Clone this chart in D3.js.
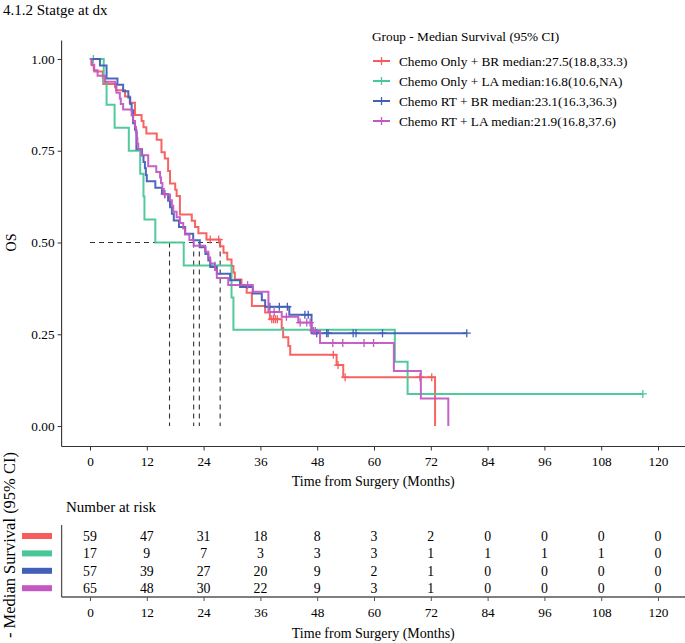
<!DOCTYPE html>
<html><head><meta charset="utf-8">
<script src="https://cdn.jsdelivr.net/npm/d3@7"></script>
<style>
body{margin:0;background:#fff}
svg{display:block}
text{font-family:"Liberation Serif","Times New Roman",serif;fill:#000}
</style>
</head><body>
<svg id="c" width="685" height="643"></svg>
<script>
// ---------------- DATA ----------------
const groups = ["Chemo Only + BR","Chemo Only + LA","Chemo RT + BR","Chemo RT + LA"];
const legendLabels = [
  "Chemo Only + BR median:27.5(18.8,33.3)",
  "Chemo Only + LA median:16.8(10.6,NA)",
  "Chemo RT + BR median:23.1(16.3,36.3)",
  "Chemo RT + LA median:21.9(16.8,37.6)"
];
const medians = [27.5, 16.8, 23.1, 21.9];
const colors = ["#F65C5C", "#48C896", "#4160B6", "#C358C2"];
const xTicks = [0,12,24,36,48,60,72,84,96,108,120];
const yTicks = [0,0.25,0.5,0.75,1];
const yTickLabels = ["0.00","0.25","0.50","0.75","1.00"];

// Chemo Only + BR (red)
const redTimes = [0,0.4,0.9,2.7,2.8,5.5,7.4,8.4,9.5,10.9,11.3,11.9,14.1,15.1,15.8,16.5,16.9,18.0,18.3,19.0,21.5,22.2,22.9,24.6,27.5,28.2,29.0,29.9,30.3,30.6,32.0,33.1,34.2,37.0,38.0,40.5,40.8,41.9,42.3,52.1,53.5,72.9];
const redSurv  = [1,0.983,0.966,0.949,0.932,0.915,0.898,0.881,0.847,0.831,0.814,0.797,0.780,0.746,0.729,0.695,0.661,0.644,0.627,0.576,0.559,0.542,0.525,0.508,0.490,0.472,0.454,0.436,0.418,0.399,0.381,0.363,0.327,0.309,0.291,0.267,0.242,0.218,0.194,0.166,0.133,0];
const redCensT = [25.4,27.2,38.4,38.8,39.2,39.6,51.4,52.4,53.9,69.7,72.2];
const redCensS = [0.508,0.508,0.291,0.291,0.291,0.291,0.194,0.166,0.133,0.133,0.133];

// Chemo Only + LA (green)
const greenTimes = [0,2.9,3.5,5.2,8.2,10.6,11.3,11.5,13.8,19.8,29.9,30.3,64.4,67.1,116.8];
const greenSurv  = [1,0.9375,0.875,0.8125,0.75,0.6875,0.625,0.5625,0.5,0.4375,0.35,0.2625,0.175,0.0875,0.0875];
const greenCensT = [0.7,26.4,116.8];
const greenCensS = [1,0.4375,0.0875];

// Chemo RT + BR (blue)
const blueTimes = [0,2.1,3.5,5.8,7.0,8.1,8.5,8.8,9.1,9.5,9.8,11.0,11.3,11.6,11.8,12.0,13.8,15.2,16.5,16.9,17.3,17.7,18.8,20.1,21.8,23.2,24.4,25.0,25.4,26.8,29.6,31.7,34.4,36.3,37.0,42.1,46.8,79.6];
const blueSurv  = [1,0.982,0.947,0.930,0.912,0.895,0.877,0.860,0.825,0.807,0.754,0.737,0.719,0.702,0.684,0.667,0.649,0.632,0.614,0.596,0.578,0.560,0.542,0.524,0.506,0.487,0.469,0.451,0.433,0.415,0.397,0.379,0.361,0.343,0.325,0.303,0.253,0.253];
const blueCensT = [15.8,38.0,40.0,41.7,45.4,46.1,47.9,50.0,50.3,55.6,56.2,61.8,79.6];
const blueCensS = [0.632,0.325,0.325,0.325,0.303,0.303,0.253,0.253,0.253,0.253,0.253,0.253,0.253];

// Chemo RT + LA (magenta)
const magTimes = [0,0.3,0.8,1.6,3.2,5.3,5.6,6.3,6.5,7.0,8.8,9.1,9.5,9.7,9.9,10.0,10.2,10.9,12.3,14.0,14.8,15.0,15.3,15.6,16.9,17.3,17.6,18.3,19.0,19.7,20.1,21.0,21.9,24.3,25.0,25.4,26.4,26.8,29.2,34.4,37.7,40.5,44.0,46.8,48.6,64.2,69.9,75.7];
const magSurv  = [1,0.985,0.969,0.954,0.938,0.923,0.908,0.892,0.877,0.862,0.846,0.831,0.815,0.800,0.785,0.769,0.754,0.738,0.708,0.692,0.677,0.662,0.646,0.631,0.615,0.600,0.584,0.569,0.553,0.538,0.522,0.507,0.491,0.475,0.459,0.443,0.425,0.403,0.384,0.366,0.311,0.298,0.282,0.259,0.226,0.150,0.075,0];
const magCensT = [15.8,33.3,38.9,41.5,44.4,45.8,46.5,47.2,47.6,51.3,53.4,57.9,59.9];
const magCensS = [0.631,0.384,0.311,0.298,0.282,0.282,0.282,0.259,0.259,0.226,0.226,0.226,0.226];

// Number at risk
const riskRed   = [59,47,31,18,8,3,2,0,0,0,0];
const riskGreen = [17,9,7,3,3,3,1,1,1,1,0];
const riskBlue  = [57,39,27,20,9,2,1,0,0,0,0];
const riskMag   = [65,48,30,22,9,3,1,0,0,0,0];

// ---------------- DRAW ----------------
const series = [
  {t:redTimes, s:redSurv, ct:redCensT, cs:redCensS, risk:riskRed},
  {t:greenTimes, s:greenSurv, ct:greenCensT, cs:greenCensS, risk:riskGreen},
  {t:blueTimes, s:blueSurv, ct:blueCensT, cs:blueCensS, risk:riskBlue},
  {t:magTimes, s:magSurv, ct:magCensT, cs:magCensS, risk:riskMag}
];

const svg = d3.select("#c");
const FS = 13.3;

const x = d3.scaleLinear().domain([-6,126]).range([61.6, 686.4]);
const y = d3.scaleLinear().domain([-0.05,1.05]).range([444.4, 40.6]);
const axisY = 446.5;

// title
svg.append("text").attr("x",3).attr("y",15).style("font-size","15px").text("4.1.2 Statge at dx");

// median dashed lines
const maxMed = d3.max(medians);
svg.append("line").attr("x1",x(0)).attr("x2",x(maxMed)).attr("y1",y(0.5)).attr("y2",y(0.5))
  .attr("stroke","#333").attr("stroke-width",1.1).attr("stroke-dasharray","5,4");
medians.forEach(m=>{
  svg.append("line").attr("x1",x(m)).attr("x2",x(m)).attr("y1",y(0.5)).attr("y2",y(0))
    .attr("stroke","#333").attr("stroke-width",1.1).attr("stroke-dasharray","5,4");
});

// curves
const line = d3.line().x(d=>x(d[0])).y(d=>y(d[1])).curve(d3.curveStepAfter);
series.forEach((g,i)=>{
  const pts = g.t.map((t,k)=>[t,g.s[k]]);
  svg.append("path").attr("d",line(pts)).attr("fill","none")
    .attr("stroke",colors[i]).attr("stroke-width",2).attr("stroke-opacity",0.95);
  g.ct.forEach((t,k)=>{
    const cx=x(t), cy=y(g.cs[k]);
    svg.append("path").attr("d",`M${cx-4},${cy}H${cx+4}M${cx},${cy-4}V${cy+4}`)
      .attr("stroke",colors[i]).attr("stroke-width",1.3).attr("fill","none");
  });
});

// axes (main)
const axisCol = "#333";
svg.append("line").attr("x1",x(-6)).attr("x2",685).attr("y1",axisY).attr("y2",axisY).attr("stroke",axisCol).attr("stroke-width",1.1);
svg.append("line").attr("x1",x(-6)).attr("x2",x(-6)).attr("y1",y(1.05)).attr("y2",axisY).attr("stroke",axisCol).attr("stroke-width",1.1);

const gx = svg.append("g").attr("transform",`translate(0,${axisY})`)
  .call(d3.axisBottom(x).tickValues(xTicks).tickSize(4).tickPadding(6.5));
gx.select(".domain").remove();
gx.selectAll("line").attr("stroke",axisCol);
gx.selectAll("text").style("font-size",FS+"px").attr("fill","#000").style("font-family","'Liberation Serif',serif");

const gy = svg.append("g").attr("transform",`translate(${x(-6)},0)`)
  .call(d3.axisLeft(y).tickValues(yTicks).tickFormat((d,i)=>yTickLabels[i]).tickSize(4).tickPadding(3));
gy.select(".domain").remove();
gy.selectAll("line").attr("stroke",axisCol);
gy.selectAll("text").style("font-size",FS+"px").attr("fill","#000").style("font-family","'Liberation Serif',serif");

svg.append("text").attr("x",(x(-6)+685)/2).attr("y",486).attr("text-anchor","middle").style("font-size","14px").text("Time from Surgery (Months)");
svg.append("text").attr("transform",`translate(16,${y(0.5)}) rotate(-90)`).attr("text-anchor","middle").style("font-size","14px").text("OS");

// legend
svg.append("text").attr("x",372).attr("y",41).style("font-size",FS+"px").text("Group - Median Survival (95% CI)");
legendLabels.forEach((lab,i)=>{
  const ly = 61 + i*20;
  svg.append("line").attr("x1",373).attr("x2",390).attr("y1",ly).attr("y2",ly).attr("stroke",colors[i]).attr("stroke-width",2);
  svg.append("line").attr("x1",381.5).attr("x2",381.5).attr("y1",ly-4).attr("y2",ly+4).attr("stroke",colors[i]).attr("stroke-width",1.3);
  svg.append("text").attr("x",399).attr("y",ly+4.5).style("font-size",FS+"px").text(lab);
});

// ---------------- RISK TABLE ----------------
const ry = d3.scalePoint().domain(groups).range([536, 588.2]);
const tTop = 525, tBot = 597;
svg.append("text").attr("x",66).attr("y",512).style("font-size","15px").text("Number at risk");
svg.append("line").attr("x1",x(-6)).attr("x2",x(-6)).attr("y1",tTop).attr("y2",tBot).attr("stroke","#555").attr("stroke-width",1.3);
svg.append("line").attr("x1",x(-6)).attr("x2",685).attr("y1",tBot).attr("y2",tBot).attr("stroke","#555").attr("stroke-width",1.3);
const gx2 = svg.append("g").attr("transform",`translate(0,${tBot})`)
  .call(d3.axisBottom(x).tickValues(xTicks).tickSize(4).tickPadding(7));
gx2.select(".domain").remove();
gx2.selectAll("line").attr("stroke","#555");
gx2.selectAll("text").style("font-size",FS+"px").attr("fill","#000").style("font-family","'Liberation Serif',serif");

series.forEach((g,i)=>{
  const yy = ry(groups[i]);
  svg.append("rect").attr("x",22).attr("y",yy-3).attr("width",30).attr("height",6).attr("fill",colors[i]);
  g.risk.forEach((v,k)=>{
    svg.append("text").attr("x",x(xTicks[k])).attr("y",yy+4.8).attr("text-anchor","middle").style("font-size","13.8px").text(v);
  });
});
svg.append("text").attr("x",(x(-6)+685)/2).attr("y",638).attr("text-anchor","middle").style("font-size","14px").text("Time from Surgery (Months)");
svg.append("text").attr("transform",`translate(15,452) rotate(-90)`).attr("text-anchor","end").style("font-size","16.5px").text("Group - Median Survival (95% CI)");
</script>
</body></html>
